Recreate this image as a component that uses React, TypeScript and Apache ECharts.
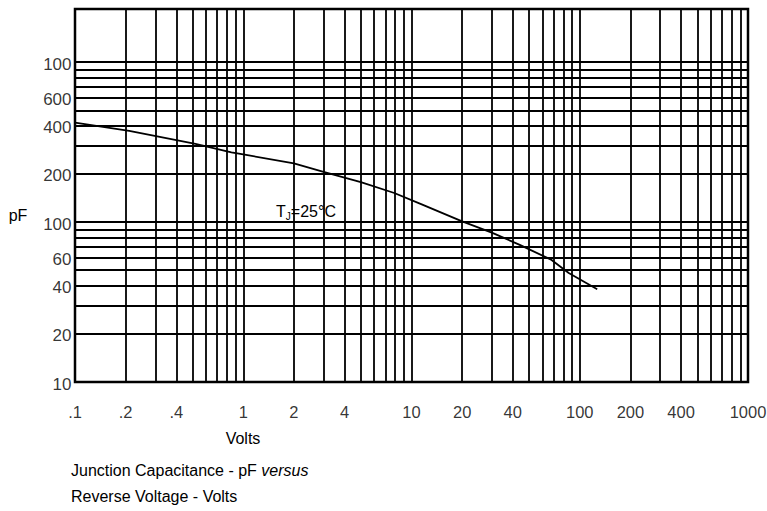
import React, { useEffect, useRef } from "react";
import * as echarts from "echarts";

// Reverse voltage (V) and junction capacitance (pF)
const voltage = [0.1, 0.21, 0.52, 0.85, 1, 2, 3, 5, 7.9, 11.5, 20, 30, 44, 68, 86, 127];
const capacitance = [419, 372, 308, 273, 265, 233, 206, 178, 152, 129, 101, 86, 72, 58, 48, 38];

// Tick labels as printed on the sheet
const xTickValues = [0.1, 0.2, 0.4, 1, 2, 4, 10, 20, 40, 100, 200, 400, 1000];
const xTickText = [".1", ".2", ".4", "1", "2", "4", "10", "20", "40", "100", "200", "400", "1000"];
const yTickValues = [10, 20, 40, 60, 100, 200, 400, 600, 1000];
const yTickText = ["10", "20", "40", "60", "100", "200", "400", "600", "100"];

// Log-paper grid lines
const xGridValues = [
  0.2, 0.3, 0.4, 0.5, 0.6, 0.7, 0.8, 0.9, 1,
  2, 3, 4, 5, 6, 7, 8, 9, 10,
  20, 30, 40, 50, 60, 70, 80, 90, 100,
  200, 300, 400, 500, 600, 700, 800, 900,
];
const yGridValues = [
  20, 30, 40, 50, 60, 70, 80, 90, 100,
  200, 300, 400, 500, 600, 700, 800, 900, 1000,
];

const FONT = "'Liberation Sans', Arial, Helvetica, sans-serif";

export default function App() {
  const ref = useRef<HTMLDivElement>(null);

  useEffect(() => {
    if (!ref.current) return;
    const chart = echarts.init(ref.current, undefined, { renderer: "svg" });
    chart.setOption({
      animation: false,
      backgroundColor: "#fff",
      grid: {
        left: 75,
        right: 19,
        top: 9,
        bottom: 129,
        show: true,
        borderColor: "#000",
        borderWidth: 2.5,
        backgroundColor: "transparent",
      },
      xAxis: {
        type: "log",
        logBase: 10,
        min: 0.1,
        max: 1000,
        axisLine: { show: false },
        axisTick: { show: false },
        axisLabel: { show: false },
        splitLine: { show: false },
      },
      yAxis: {
        type: "log",
        logBase: 10,
        min: 10,
        max: 2150,
        axisLine: { show: false },
        axisTick: { show: false },
        axisLabel: { show: false },
        splitLine: { show: false },
      },
      series: [
        {
          type: "line",
          name: "Capacitance",
          data: voltage.map((v, i) => [v, capacitance[i]]),
          symbol: "none",
          smooth: false,
          lineStyle: { color: "#000", width: 1.8 },
          z: 5,
          markLine: {
            silent: true,
            symbol: ["none", "none"],
            label: { show: false },
            lineStyle: { color: "#000", width: 1.8, type: "solid" },
            data: [
              ...xGridValues.map((v) => ({ xAxis: v })),
              ...yGridValues.map((v) => ({ yAxis: v })),
            ],
          },
        },
        {
          type: "scatter",
          name: "xLabels",
          silent: true,
          clip: false,
          symbolSize: 1,
          itemStyle: { color: "transparent" },
          data: xTickValues.map((v) => [v, 10]),
          label: {
            show: true,
            color: "#000",
            fontSize: 16.5,
            fontFamily: FONT,
            position: "bottom",
            distance: 21,
            formatter: (p: any) => xTickText[p.dataIndex],
          },
        },
        {
          type: "scatter",
          name: "yLabels",
          silent: true,
          clip: false,
          symbolSize: 1,
          itemStyle: { color: "transparent" },
          data: yTickValues.map((v) => [0.1, v]),
          label: {
            show: true,
            color: "#000",
            fontSize: 17,
            fontFamily: FONT,
            position: "left",
            distance: 3,
            offset: [0, 2],
            formatter: (p: any) => yTickText[p.dataIndex],
          },
        },
      ],
      graphic: [
        {
          type: "text",
          x: 18,
          y: 215,
          style: { text: "pF", fill: "#000", fontSize: 16, fontFamily: FONT, align: "center", verticalAlign: "middle" },
        },
        {
          type: "text",
          x: 243,
          y: 438,
          style: { text: "Volts", fill: "#000", fontSize: 16, fontFamily: FONT, align: "center", verticalAlign: "middle" },
        },
        {
          type: "text",
          x: 306,
          y: 211,
          style: {
            text: "{t|T}{s|J}{t|=25°C}",
            fill: "#000",
            fontFamily: FONT,
            align: "center",
            verticalAlign: "middle",
            rich: {
              t: { fontSize: 16, fontFamily: FONT, lineHeight: 20, fill: "#000" },
              s: { fontSize: 10, fontFamily: FONT, lineHeight: 10, verticalAlign: "bottom", fill: "#000" },
            },
          },
        },
        {
          type: "text",
          x: 71,
          y: 470,
          style: {
            text: "Junction Capacitance - pF {i|versus}",
            fill: "#000",
            fontSize: 16,
            fontFamily: FONT,
            align: "left",
            verticalAlign: "middle",
            rich: {
              i: { fontSize: 16, fontFamily: FONT, fontStyle: "italic", fill: "#000" },
            },
          },
        },
        {
          type: "text",
          x: 71,
          y: 496,
          style: { text: "Reverse Voltage - Volts", fill: "#000", fontSize: 16, fontFamily: FONT, align: "left", verticalAlign: "middle" },
        },
      ],
    });
    return () => chart.dispose();
  }, []);

  return (
    <div
      ref={ref}
      style={{ position: "fixed", left: 0, top: 0, width: 767, height: 511, background: "#fff" }}
    />
  );
}
